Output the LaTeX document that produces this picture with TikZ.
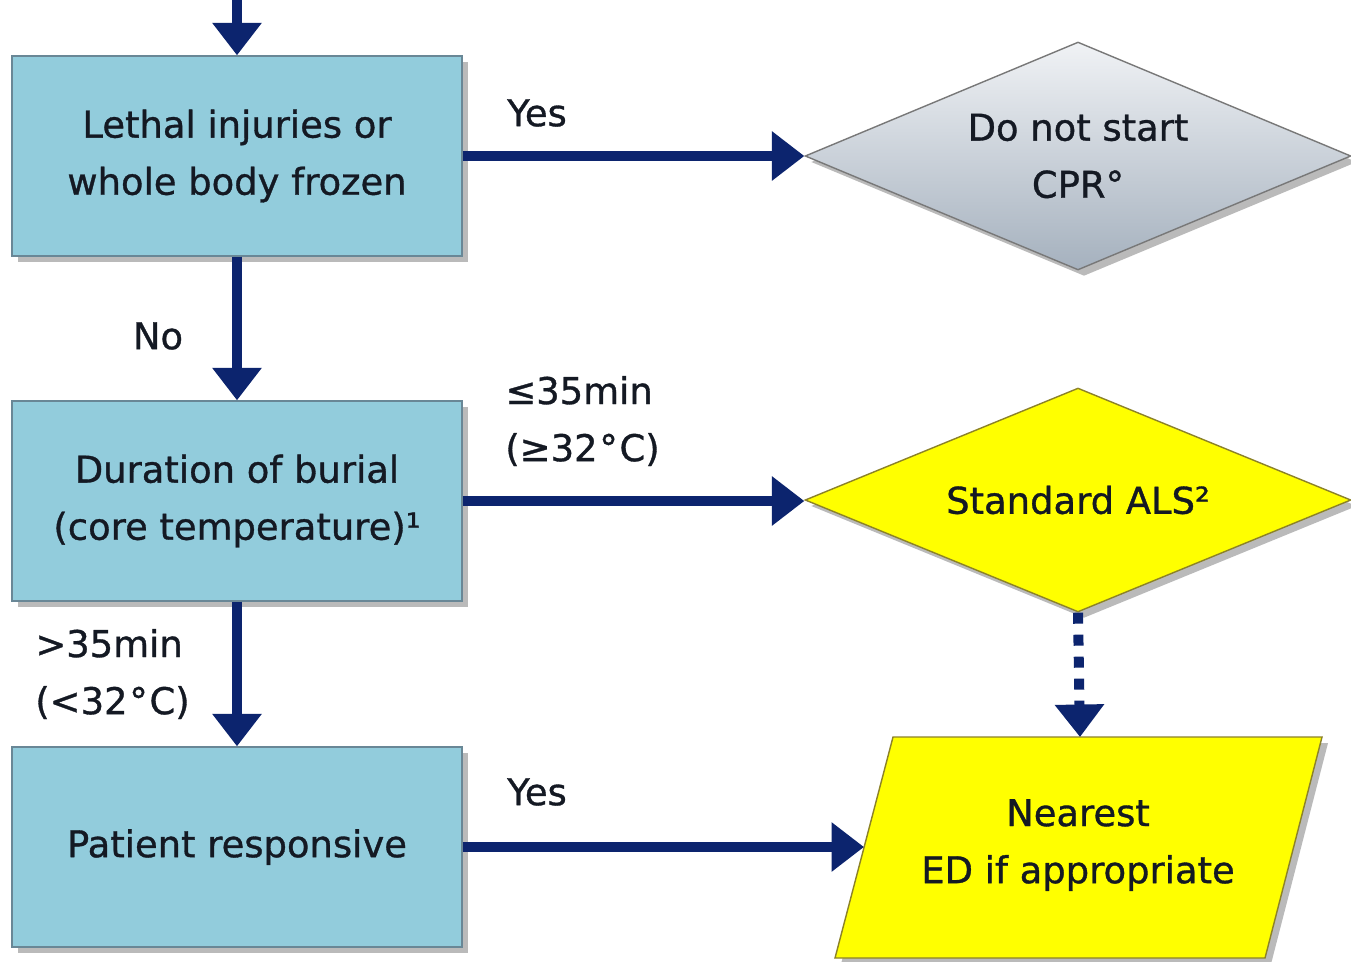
\documentclass[tikz,border=0pt]{standalone}
\usepackage{fontspec}
\setmainfont{DejaVu Sans}[RawFeature={embolden=0.9}]
\usetikzlibrary{arrows.meta,shapes.geometric,shadows}
\definecolor{boxblue}{RGB}{146,204,220}
\definecolor{boxedge}{RGB}{105,135,150}
\definecolor{navy}{RGB}{12,36,110}
\definecolor{yel}{RGB}{255,255,0}
\definecolor{yeledge}{RGB}{140,130,40}
\definecolor{txt}{RGB}{20,25,35}
\definecolor{grayA}{RGB}{240,242,245}
\definecolor{grayB}{RGB}{165,177,190}
\definecolor{grayedge}{RGB}{120,120,120}
\begin{document}
\begin{tikzpicture}[x=0.02cm,y=-0.02cm,
  every node/.style={font=\fontsize{21}{32.5}\selectfont, text=txt},
  sh/.style={drop shadow={shadow xshift=0.12cm, shadow yshift=-0.12cm, opacity=0.45, fill=black!60}},
  bluebox/.style={draw=boxedge, line width=0.8pt, fill=boxblue, minimum width=9cm, minimum height=4cm, inner sep=0pt, align=center, sh},
  decision/.style={diamond, aspect=2.4, inner sep=0pt, align=center, line width=0.8pt, minimum width=10.92cm, sh},
  outshape/.style={draw=yeledge, fill=yel, line width=0.8pt, sh},
  arr/.style={draw=navy, line width=0.2cm, -{Triangle[length=0.65cm,width=0.95cm]}},
  dotarr/.style={arr, dash pattern=on 0.22cm off 0.22cm},
  lbl/.style={inner sep=0pt}
]
\useasboundingbox (0,0) rectangle (1351,961);
\fill[white] (0,0) rectangle (1351,961);

\node[bluebox] (b1) at (237,156) {Lethal injuries or\\whole body frozen};
\node[bluebox] (b2) at (237,501) {Duration of burial\\(core temperature)¹};
\node[bluebox] (b3) at (237,847) {Patient responsive};

\node[decision, draw=grayedge, top color=grayA, bottom color=grayB, minimum height=4.56cm] (d1) at (1078,156) {Do not start\\CPR°};
\node[decision, draw=yeledge, fill=yel, minimum height=4.48cm] (d2) at (1078,500) {Standard ALS²};

\path[outshape] (893,737) -- (1322,737) -- (1265,958) -- (835,958) -- cycle;
\node[inner sep=0pt, align=center] (ed) at (1078,845) {Nearest\\ED if appropriate};
\coordinate (edtop) at (1080,737);
\coordinate (edleft) at (864,847);

\coordinate (start) at (237,0);
\draw[arr] (start) -- (b1);
\draw[arr] (b1.east) -- (d1.west);
\draw[arr] (b1.south) -- (b2.north);
\draw[arr] (b2.east) -- (b2.east -| d2.west);
\draw[arr] (b2.south) -- (b3.north);
\draw[arr] (b3.east) -- (edleft);
\draw[dotarr] (d2.south) -- (edtop);

\node[lbl] (yes1) at (537,113) {Yes};
\node[lbl] (no1) at (158,336) {No};
\node[lbl, anchor=west, align=left] (le35) at (505,421) {≤35min\\(≥32\kern1pt°\kern1pt C)};
\node[lbl, anchor=west, align=left] (gt35) at (35,674) {>35min\\(<32\kern1pt°\kern1pt C)};
\node[lbl] (yes2) at (537,792) {Yes};
\end{tikzpicture}
\end{document}
